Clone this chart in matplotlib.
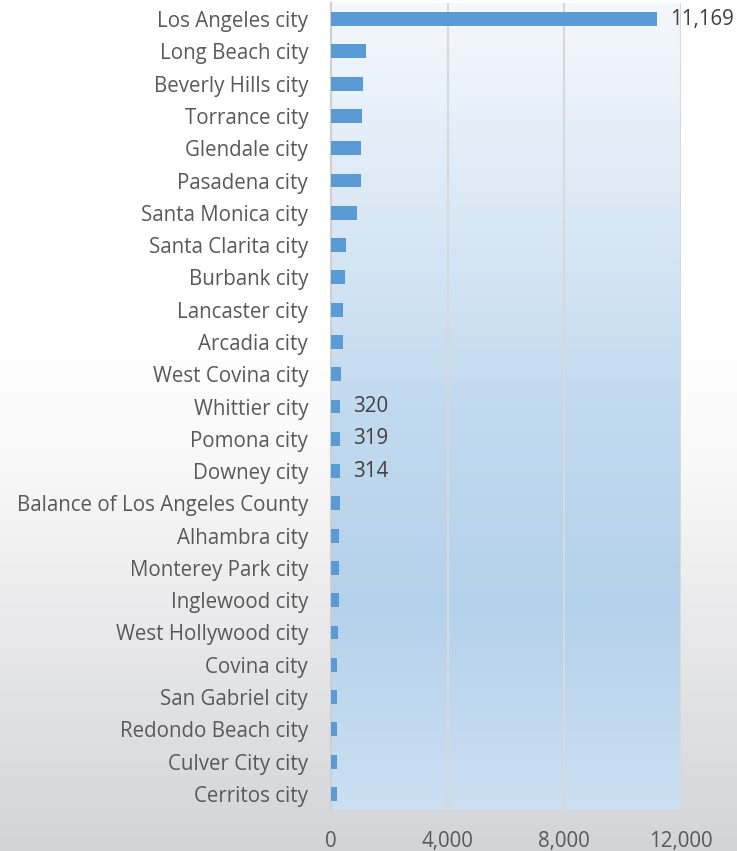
import numpy as np
import matplotlib.pyplot as plt
from matplotlib.colors import LinearSegmentedColormap

plt.rcParams['font.family'] = ['Open Sans', 'DejaVu Sans']

cities = ['Los Angeles city', 'Long Beach city', 'Beverly Hills city', 'Torrance city',
          'Glendale city', 'Pasadena city', 'Santa Monica city', 'Santa Clarita city',
          'Burbank city', 'Lancaster city', 'Arcadia city', 'West Covina city',
          'Whittier city', 'Pomona city', 'Downey city', 'Balance of Los Angeles County',
          'Alhambra city', 'Monterey Park city', 'Inglewood city', 'West Hollywood city',
          'Covina city', 'San Gabriel city', 'Redondo Beach city', 'Culver City city',
          'Cerritos city']
values = [11169, 1200, 1110, 1075, 1030, 1015, 905, 500, 490, 410, 400, 330,
          320, 319, 314, 310, 275, 265, 260, 250, 218, 215, 210, 205, 200]
labelled = {'Los Angeles city': '11,169', 'Whittier city': '320',
            'Pomona city': '319', 'Downey city': '314'}
xticks = [0, 4000, 8000, 12000]
xticklabels = ['0', '4,000', '8,000', '12,000']

fig = plt.figure(figsize=(7.37, 8.51), dpi=100)

# figure background: white, fading to grey near the bottom
bg = fig.add_axes([0, 0, 1, 1], zorder=-10)
bg_cmap = LinearSegmentedColormap.from_list(
    'bg', [(0, '#d3d4d7'), (0.1, '#dbdcdf'), (0.25, '#e8e8ea'), (0.45, '#f8f8f8'),
           (0.6, '#ffffff'), (1, '#ffffff')])
bg.imshow(np.linspace(0, 1, 256).reshape(-1, 1), cmap=bg_cmap, aspect='auto',
          extent=[0, 1, 0, 1], origin='lower')
bg.set_axis_off()

ax = fig.add_axes([331 / 737, 1 - 810 / 851, 350 / 737, 807 / 851])
pa_cmap = LinearSegmentedColormap.from_list(
    'pa', [(0, '#cce0f2'), (0.25, '#b4d1eb'), (0.5, '#c2daef'), (0.8, '#e0ecf7'), (1, '#f5f8fc')])
ax.imshow(np.linspace(0, 1, 256).reshape(-1, 1), cmap=pa_cmap, aspect='auto',
          extent=[0, 12000, -0.5, len(cities) - 0.5], origin='upper', zorder=0)

y = np.arange(len(cities))
ax.barh(y, values, height=0.43, color='#5b9bd5', zorder=3)
for yi, name, v in zip(y, cities, values):
    if name in labelled:
        ax.text(v + 450, yi, labelled[name], va='center', ha='left',
                fontsize=14.8, color='#404040', zorder=4, clip_on=False)

ax.set_xlim(0, 12000)
ax.set_ylim(len(cities) - 0.5, -0.5)
ax.set_xticks(xticks)
ax.set_xticklabels(xticklabels)
ax.set_yticks(y)
ax.set_yticklabels(cities)
ax.tick_params(axis='both', length=0, labelsize=14.8, labelcolor='#595959')
ax.tick_params(axis='y', pad=16.5)
ax.tick_params(axis='x', pad=15)
for xv in xticks[1:]:
    ax.axvline(xv, color='#d9d9d9', lw=1.5, zorder=2)
for s in ['top', 'right', 'bottom']:
    ax.spines[s].set_visible(False)
ax.spines['left'].set_color('#d0d0d0')
ax.spines['left'].set_linewidth(1.5)

fig.savefig('out.png', dpi=100)
